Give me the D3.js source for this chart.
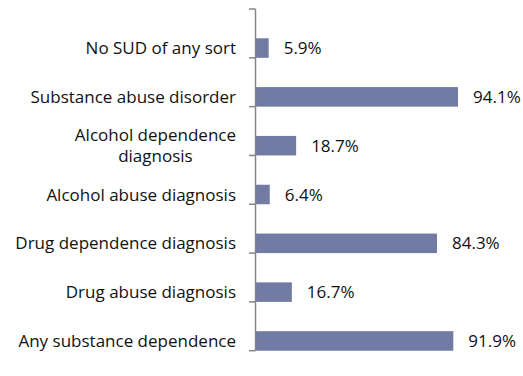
<!DOCTYPE html>
<html>
<head>
<meta charset="utf-8">
<script src="https://cdn.jsdelivr.net/npm/d3@7"></script>
<style>
  html, body { margin: 0; padding: 0; background: #fff; }
  svg text { font-family: "Open Sans", Lato, sans-serif; fill: #111; }
</style>
</head>
<body>
<svg id="chart" width="523" height="376"></svg>
<script>
// Diagnosis categories, top to bottom; each entry lists the label lines
const categories = [
  ["No SUD of any sort"],
  ["Substance abuse disorder"],
  ["Alcohol dependence", "diagnosis"],
  ["Alcohol abuse diagnosis"],
  ["Drug dependence diagnosis"],
  ["Drug abuse diagnosis"],
  ["Any substance dependence"]
];
const percents = [5.9, 94.1, 18.7, 6.4, 84.3, 16.7, 91.9];
const valueLabels = ["5.9%", "94.1%", "18.7%", "6.4%", "84.3%", "16.7%", "91.9%"];

const svg = d3.select("#chart");
const keys = categories.map((c, i) => i);
const fontSize = 17;

const x = d3.scaleLinear().domain([0, 100]).range([256, 470.7]);
const y = d3.scaleBand().domain(keys).range([9, 380]).padding(0.6);

// Bars
svg.selectAll("rect.bar")
  .data(keys)
  .join("rect")
  .attr("class", "bar")
  .attr("x", x(0))
  .attr("y", d => y(d))
  .attr("width", d => x(percents[d]) - x(0))
  .attr("height", y.bandwidth())
  .attr("fill", "#717ba3");

// Value labels
svg.selectAll("text.val")
  .data(keys)
  .join("text")
  .attr("class", "val")
  .attr("x", d => x(percents[d]) + 15)
  .attr("y", d => y(d) + y.bandwidth() / 2)
  .attr("dy", "0.36em")
  .attr("font-size", fontSize)
  .text(d => valueLabels[d]);

// Vertical category axis with ticks on band boundaries
const axisG = svg.append("g");
const step = y.step();
const bounds = d3.range(keys.length + 1).map(i => 9 + i * step);
axisG.append("line")
  .attr("x1", 255.5).attr("x2", 255.5)
  .attr("y1", bounds[0]).attr("y2", bounds[bounds.length - 1])
  .attr("stroke", "#868686").attr("stroke-width", 1.5);
axisG.selectAll("line.tick")
  .data(bounds)
  .join("line")
  .attr("class", "tick")
  .attr("x1", 249).attr("x2", 255.5)
  .attr("y1", d => d).attr("y2", d => d)
  .attr("stroke", "#868686").attr("stroke-width", 1.5);

// Category labels; multi-line labels are centred on their widest line,
// which stays right aligned next to the axis
const labelRight = 236;
const lineH = 21;
svg.selectAll("text.cat")
  .data(keys)
  .join("text")
  .attr("class", "cat")
  .attr("font-size", fontSize)
  .attr("text-anchor", "middle")
  .each(function(d) {
    const lines = categories[d];
    const cy = y(d) + y.bandwidth() / 2;
    const t = d3.select(this);
    const spans = lines.map((ln, j) =>
      t.append("tspan")
        .attr("y", cy + (j - (lines.length - 1) / 2) * lineH)
        .attr("dy", "0.36em")
        .text(ln));
    const widest = d3.max(spans, s => s.node().getComputedTextLength());
    spans.forEach(s => s.attr("x", labelRight - widest / 2));
  });
</script>
</body>
</html>
